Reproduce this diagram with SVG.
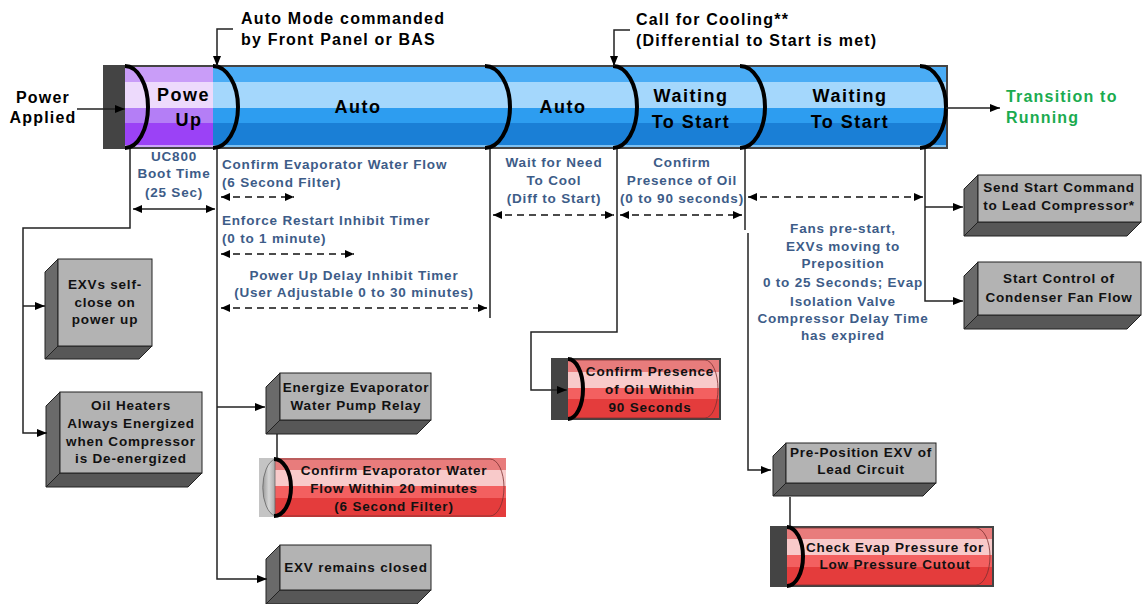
<svg xmlns="http://www.w3.org/2000/svg" width="1142" height="604" viewBox="0 0 1142 604">
  <style>
    text { font-family: "Liberation Sans", Arial, sans-serif; font-weight: bold; }
    .bar { font-size: 18px; letter-spacing: 1.5px; fill: #000; text-anchor: middle; }
    .hdr { font-size: 16px; letter-spacing: 1.2px; fill: #000; }
    .run { font-size: 16px; letter-spacing: 1.2px; fill: #1aab4f; }
    .lbl { font-size: 13.5px; letter-spacing: 0.8px; fill: #3d5c88; }
    .mid { text-anchor: middle; }
    .box { font-size: 13.5px; letter-spacing: 0.8px; fill: #111; text-anchor: middle; }
    .face { fill: #b3b3b3; stroke: #222; stroke-width: 1; }
    .side { fill: #6a6a6a; stroke: #222; stroke-width: 1; }
    .bottom { fill: #575757; stroke: #222; stroke-width: 1; }
    .cap { fill: none; stroke: #000; stroke-width: 4; }
    .rim { fill: none; stroke: #7a3030; stroke-width: 0.8; }
    .wire { fill: none; stroke: #222; stroke-width: 1.5; }
    .dash { fill: none; stroke: #111; stroke-width: 1.5; stroke-dasharray: 7 5; }
    .frame { fill: #444; }
  </style>
  <defs>
    <linearGradient id="blue" x1="0" y1="0" x2="0" y2="1">
      <stop offset="0" stop-color="#4aacf5"/>
      <stop offset="0.19" stop-color="#4aacf5"/>
      <stop offset="0.19" stop-color="#a4d7fc"/>
      <stop offset="0.51" stop-color="#a4d7fc"/>
      <stop offset="0.51" stop-color="#2d9df0"/>
      <stop offset="0.7" stop-color="#2d9df0"/>
      <stop offset="0.7" stop-color="#1a7fd6"/>
      <stop offset="0.97" stop-color="#1a7fd6"/>
      <stop offset="0.97" stop-color="#7cc0f2"/>
      <stop offset="1" stop-color="#7cc0f2"/>
    </linearGradient>
    <linearGradient id="purple" x1="0" y1="0" x2="0" y2="1">
      <stop offset="0" stop-color="#c99df8"/>
      <stop offset="0.19" stop-color="#c99df8"/>
      <stop offset="0.19" stop-color="#eddafc"/>
      <stop offset="0.51" stop-color="#eddafc"/>
      <stop offset="0.51" stop-color="#b47ef6"/>
      <stop offset="0.7" stop-color="#b47ef6"/>
      <stop offset="0.7" stop-color="#9b42f6"/>
      <stop offset="0.97" stop-color="#9b42f6"/>
      <stop offset="0.97" stop-color="#caa4f8"/>
      <stop offset="1" stop-color="#caa4f8"/>
    </linearGradient>
    <linearGradient id="red" x1="0" y1="0" x2="0" y2="1">
      <stop offset="0" stop-color="#e87c7c"/>
      <stop offset="0.2" stop-color="#e87c7c"/>
      <stop offset="0.2" stop-color="#f8caca"/>
      <stop offset="0.48" stop-color="#f8caca"/>
      <stop offset="0.48" stop-color="#f36060"/>
      <stop offset="0.68" stop-color="#f36060"/>
      <stop offset="0.68" stop-color="#e43c3c"/>
      <stop offset="1" stop-color="#e43c3c"/>
    </linearGradient>
    <linearGradient id="grey" x1="0" y1="0" x2="1" y2="0">
      <stop offset="0" stop-color="#9a9a9a"/>
      <stop offset="0.5" stop-color="#d6d6d6"/>
      <stop offset="1" stop-color="#a8a8a8"/>
    </linearGradient>
    <marker id="head" viewBox="0 0 10 8" refX="10" refY="4" markerWidth="10" markerHeight="8" markerUnits="userSpaceOnUse" orient="auto-start-reverse">
      <path d="M0,0 L10,4 L0,8 Z" fill="#000"/>
    </marker>
    <marker id="tip" viewBox="0 0 9 8" refX="9" refY="4" markerWidth="9" markerHeight="8" markerUnits="userSpaceOnUse" orient="auto-start-reverse">
      <path d="M0,0 L9,4 L0,8 Z" fill="#000"/>
    </marker>
  </defs>

  <!-- timeline bar -->
  <g id="timeline">
    <rect class="frame" x="103" y="65" width="845" height="84"/>
    <rect x="125" y="67" width="88" height="80" fill="url(#purple)"/>
    <rect x="213" y="67" width="733" height="80" fill="url(#blue)"/>
    <path class="cap" d="M125,66 A23,41 0 0 1 125,148"/>
    <path class="cap" d="M213,66 A25,41 0 0 1 213,148"/>
    <path class="cap" d="M485,66 A25,41 0 0 1 485,148"/>
    <path class="cap" d="M613,66 A24,41 0 0 1 613,148"/>
    <path class="cap" d="M740,66 A25,41 0 0 1 740,148"/>
    <path class="cap" d="M920,66 A26,41 0 0 1 920,148"/>
    <text class="bar" x="157" y="101" style="text-anchor:start">Powe</text>
    <text class="bar" x="189" y="126">Up</text>
    <text class="bar" x="358" y="113">Auto</text>
    <text class="bar" x="563" y="113">Auto</text>
    <text class="bar" x="691" y="102">Waiting</text>
    <text class="bar" x="691" y="128">To Start</text>
    <text class="bar" x="850" y="102">Waiting</text>
    <text class="bar" x="850" y="128">To Start</text>
  </g>

  <!-- events and outcomes -->
  <g id="power-applied">
    <text class="hdr mid" x="43" y="103">Power</text>
    <text class="hdr mid" x="43" y="123">Applied</text>
  </g>
  <g id="auto-mode">
    <text class="hdr" x="241" y="24">Auto Mode commanded</text>
    <text class="hdr" x="241" y="45">by Front Panel or BAS</text>
  </g>
  <g id="call-for-cooling">
    <text class="hdr" x="636" y="25">Call for Cooling**</text>
    <text class="hdr" x="636" y="46">(Differential to Start is met)</text>
  </g>
  <g id="transition">
    <text class="run" x="1006" y="102">Transition to</text>
    <text class="run" x="1006" y="123">Running</text>
  </g>

  <!-- timing labels -->
  <g id="timers">
    <text class="lbl mid" x="174" y="161">UC800</text>
    <text class="lbl mid" x="174" y="178">Boot Time</text>
    <text class="lbl mid" x="174" y="197">(25 Sec)</text>
    <text class="lbl" x="222" y="169">Confirm Evaporator Water Flow</text>
    <text class="lbl" x="222" y="187">(6 Second Filter)</text>
    <text class="lbl" x="222" y="225">Enforce Restart Inhibit Timer</text>
    <text class="lbl" x="222" y="243">(0 to 1 minute)</text>
    <text class="lbl mid" x="354" y="280">Power Up Delay Inhibit Timer</text>
    <text class="lbl mid" x="354" y="297">(User Adjustable 0 to 30 minutes)</text>
    <text class="lbl mid" x="554" y="167">Wait for Need</text>
    <text class="lbl mid" x="554" y="185">To Cool</text>
    <text class="lbl mid" x="554" y="203">(Diff to Start)</text>
    <text class="lbl mid" x="682" y="167">Confirm</text>
    <text class="lbl mid" x="682" y="185">Presence of Oil</text>
    <text class="lbl mid" x="682" y="203">(0 to 90 seconds)</text>
    <text class="lbl mid" x="843" y="233">Fans pre-start,</text>
    <text class="lbl mid" x="843" y="251">EXVs moving to</text>
    <text class="lbl mid" x="843" y="268">Preposition</text>
    <text class="lbl mid" x="843" y="287">0 to 25 Seconds; Evap</text>
    <text class="lbl mid" x="843" y="306">Isolation Valve</text>
    <text class="lbl mid" x="843" y="323">Compressor Delay Time</text>
    <text class="lbl mid" x="843" y="340">has expired</text>
  </g>

  <!-- action boxes -->
  <g id="exvs-self-close">
    <polygon class="side" points="45,272 58,259 58,346 45,359"/>
    <polygon class="bottom" points="45,359 58,346 152,346 139,359"/>
    <rect class="face" x="58" y="259" width="94" height="87"/>
    <text class="box" x="105" y="289">EXVs self-</text>
    <text class="box" x="105" y="307">close on</text>
    <text class="box" x="105" y="324">power up</text>
  </g>
  <g id="oil-heaters">
    <polygon class="side" points="46,406 60,392 60,473 46,487"/>
    <polygon class="bottom" points="46,487 60,473 202,473 188,487"/>
    <rect class="face" x="60" y="392" width="142" height="81"/>
    <text class="box" x="131" y="410">Oil Heaters</text>
    <text class="box" x="131" y="428">Always Energized</text>
    <text class="box" x="131" y="446">when Compressor</text>
    <text class="box" x="131" y="463">is De-energized</text>
  </g>
  <g id="energize-pump">
    <polygon class="side" points="266,387 280,373 280,420 266,434"/>
    <polygon class="bottom" points="266,434 280,420 431,420 417,434"/>
    <rect class="face" x="280" y="373" width="151" height="47"/>
    <text class="box" x="356" y="392">Energize Evaporator</text>
    <text class="box" x="356" y="410">Water Pump Relay</text>
  </g>
  <g id="exv-closed">
    <polygon class="side" points="266,559 280,545 280,590 266,604"/>
    <polygon class="bottom" points="266,604 280,590 431,590 417,604"/>
    <rect class="face" x="280" y="545" width="151" height="45"/>
    <text class="box" x="356" y="572">EXV remains closed</text>
  </g>
  <g id="send-start">
    <polygon class="side" points="964,189 978,175 978,222 964,236"/>
    <polygon class="bottom" points="964,236 978,222 1141,222 1127,236"/>
    <rect class="face" x="978" y="175" width="163" height="47"/>
    <text class="box" x="1059" y="192">Send Start Command</text>
    <text class="box" x="1059" y="210">to Lead Compressor*</text>
  </g>
  <g id="condenser-fan">
    <polygon class="side" points="964,276 978,262 978,315 964,329"/>
    <polygon class="bottom" points="964,329 978,315 1141,315 1127,329"/>
    <rect class="face" x="978" y="262" width="163" height="53"/>
    <text class="box" x="1059" y="283">Start Control of</text>
    <text class="box" x="1059" y="302">Condenser Fan Flow</text>
  </g>
  <g id="preposition-exv">
    <polygon class="side" points="773,456 786,443 786,483 773,496"/>
    <polygon class="bottom" points="773,496 786,483 936,483 923,496"/>
    <rect class="face" x="786" y="443" width="150" height="40"/>
    <text class="box" x="861" y="457">Pre-Position EXV of</text>
    <text class="box" x="861" y="474">Lead Circuit</text>
  </g>

  <!-- checks -->
  <g id="check-water-flow">
    <rect x="259" y="458" width="247" height="59" fill="url(#red)"/>
    <rect x="259" y="458" width="16" height="59" fill="#c4c4c4"/>
    <path d="M275,459 A15,29 0 0 0 275,516 Z" fill="url(#grey)" stroke="#666" stroke-width="0.8"/>
    <path class="rim" d="M275,459 H490 A14,28.5 0 0 1 490,516 H275" stroke="#8a4040"/>
    <path class="cap" d="M274,459 A17,28.5 0 0 1 274,516" stroke-width="3.5"/>
    <text class="box" x="394" y="475">Confirm Evaporator Water</text>
    <text class="box" x="394" y="493">Flow Within 20 minutes</text>
    <text class="box" x="394" y="511">(6 Second Filter)</text>
  </g>
  <g id="check-oil">
    <rect class="frame" x="551" y="358" width="170" height="62"/>
    <rect x="568" y="360" width="151" height="58" fill="url(#red)"/>
    <path class="rim" d="M568,360 H705 A13,29 0 0 1 705,418 H568"/>
    <path class="cap" d="M568,359 A15,30 0 0 1 568,419" stroke-width="3.5"/>
    <text class="box" x="650" y="376">Confirm Presence</text>
    <text class="box" x="650" y="394">of Oil Within</text>
    <text class="box" x="650" y="412">90 Seconds</text>
  </g>
  <g id="check-evap-pressure">
    <rect class="frame" x="770" y="526" width="224" height="61"/>
    <rect x="787" y="528" width="205" height="57" fill="url(#red)"/>
    <path class="rim" d="M787,528 H976 A14,28.5 0 0 1 976,585 H787"/>
    <path class="cap" d="M787,527 A16,29.5 0 0 1 787,586" stroke-width="3.5"/>
    <text class="box" x="895" y="552">Check Evap Pressure for</text>
    <text class="box" x="895" y="569">Low Pressure Cutout</text>
  </g>

  <!-- connectors -->
  <g id="connectors">
    <path class="wire" d="M77,109 H125" marker-end="url(#head)"/>
    <path class="wire" d="M233,29 H217 V66" marker-end="url(#head)"/>
    <path class="wire" d="M630,30 H614 V66" marker-end="url(#head)"/>
    <path class="wire" d="M946,108 H1000" marker-end="url(#head)"/>

    <path class="wire" d="M130,149 V228 H23 V433 H47" marker-end="url(#head)"/>
    <path class="wire" d="M23,306 H45" marker-end="url(#head)"/>
    <path class="wire" d="M133,209 H215" marker-start="url(#tip)" marker-end="url(#tip)"/>

    <path class="wire" d="M217,149 V579 H267" marker-end="url(#head)"/>
    <path class="wire" d="M217,407 H265" marker-end="url(#head)"/>
    <path class="wire" d="M277,434 V458"/>
    <path class="dash" d="M221,197 H294" marker-start="url(#tip)" marker-end="url(#tip)"/>
    <path class="dash" d="M221,254 H354" marker-start="url(#tip)" marker-end="url(#tip)"/>
    <path class="dash" d="M221,308 H487" marker-start="url(#tip)" marker-end="url(#tip)"/>

    <path class="wire" d="M490,149 V318"/>
    <path class="dash" d="M493,215 H614" marker-start="url(#tip)" marker-end="url(#tip)"/>
    <path class="wire" d="M617,149 V332 H531 V390 H567" marker-end="url(#head)"/>
    <path class="dash" d="M620,215 H742" marker-start="url(#tip)" marker-end="url(#tip)"/>

    <path class="wire" d="M745,149 V230"/>
    <path class="wire" d="M748,233 V470 H771" marker-end="url(#head)"/>
    <path class="wire" d="M790,497 V526"/>
    <path class="dash" d="M748,197 H923" marker-start="url(#tip)" marker-end="url(#tip)"/>

    <path class="wire" d="M925,149 V301 H963" marker-end="url(#head)"/>
    <path class="wire" d="M925,207 H963" marker-end="url(#head)"/>
  </g>
</svg>
